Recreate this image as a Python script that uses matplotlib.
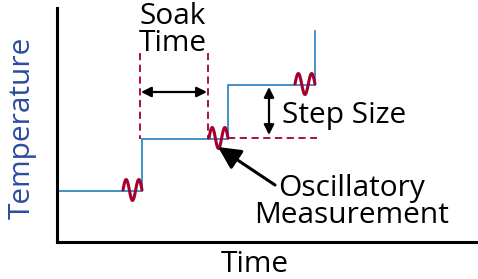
import numpy as np
import matplotlib.pyplot as plt

# step profile (time, temperature) in plot units
step_t = [0, 85, 171, 258]
step_T = [51, 103, 157, 211]

# oscillatory bursts: start, end of each burst and the level it sits on
burst_start = [66, 152, 238]
burst_end = [85, 171, 258]
burst_level = [51, 103, 157]

# soak time markers and arrow
soak_x = [83, 151]
soak_top = 189
soak_arrow_y = 150
# step size marker
step_x = 212
step_dash = [171, 260]

blue = '#2180bf'
red = '#a3002e'
label_blue = '#2c4d9e'
font = 'Open Sans'
fs = 21.5

fig = plt.figure(figsize=(4.78, 2.79), dpi=100)
ax = fig.add_axes([57/478, 37/279, 421/478, 234/279])
ax.set_xlim(0, 421)
ax.set_ylim(0, 234)
ax.set_xticks([])
ax.set_yticks([])
for s in ['top', 'right']:
    ax.spines[s].set_visible(False)
for s in ['left', 'bottom']:
    ax.spines[s].set_linewidth(2.2)

# step line
ax.plot(step_t + [step_t[-1]], step_T + [step_T[-1]], drawstyle='steps-post',
        color=blue, lw=1.2, solid_joinstyle='miter')

# wiggles
for a, b, lev in zip(burst_start, burst_end, burst_level):
    u = np.linspace(0, 1, 60)
    ax.plot(a + (b - a) * u, lev + 1 + 10.5 * np.sin(3 * np.pi * u), color=red, lw=2.2,
            solid_capstyle='round')

# dashed markers
dash = (0, (4, 2.5))
for x in soak_x:
    ax.plot([x, x], [soak_top, step_T[1]], color=red, lw=1.3, ls=dash)
ax.plot(step_dash, [step_T[1] + 1, step_T[1] + 1], color=red, lw=1.3, ls=dash)

# soak time arrow
ax.annotate('', xy=(soak_x[0] + 1, soak_arrow_y), xytext=(soak_x[1] - 1, soak_arrow_y),
            arrowprops=dict(arrowstyle='<|-|>', color='black', lw=1.6,
                            mutation_scale=15, shrinkA=0, shrinkB=0))
# step size arrow
ax.annotate('', xy=(step_x, step_T[2] - 2), xytext=(step_x, step_T[1] + 4),
            arrowprops=dict(arrowstyle='<|-|>', color='black', lw=1.6,
                            mutation_scale=15, shrinkA=0, shrinkB=0))
# oscillatory arrow
ax.annotate('', xy=(161, 95), xytext=(218, 57),
            arrowprops=dict(arrowstyle='-|>', color='black', lw=2.2,
                            mutation_scale=34, shrinkA=0, shrinkB=0))

ax.text(116, 212, 'Soak\nTime', ha='center', va='center', fontsize=fs,
        family=font, linespacing=0.9)
ax.text(225, 127, 'Step Size', ha='left', va='center', fontsize=fs, family=font)
ax.text(295, 40, 'Oscillatory\nMeasurement', ha='center', va='center',
        fontsize=fs, family=font, linespacing=0.9)

fig.text(255/478, 7/279, 'Time', ha='center', va='baseline', fontsize=fs, family=font)
fig.text(22/478, 1 - 128/279, 'Temperature', ha='center', va='center', rotation=90,
         fontsize=fs, family=font, color=label_blue)

fig.savefig('out.png', dpi=100)
